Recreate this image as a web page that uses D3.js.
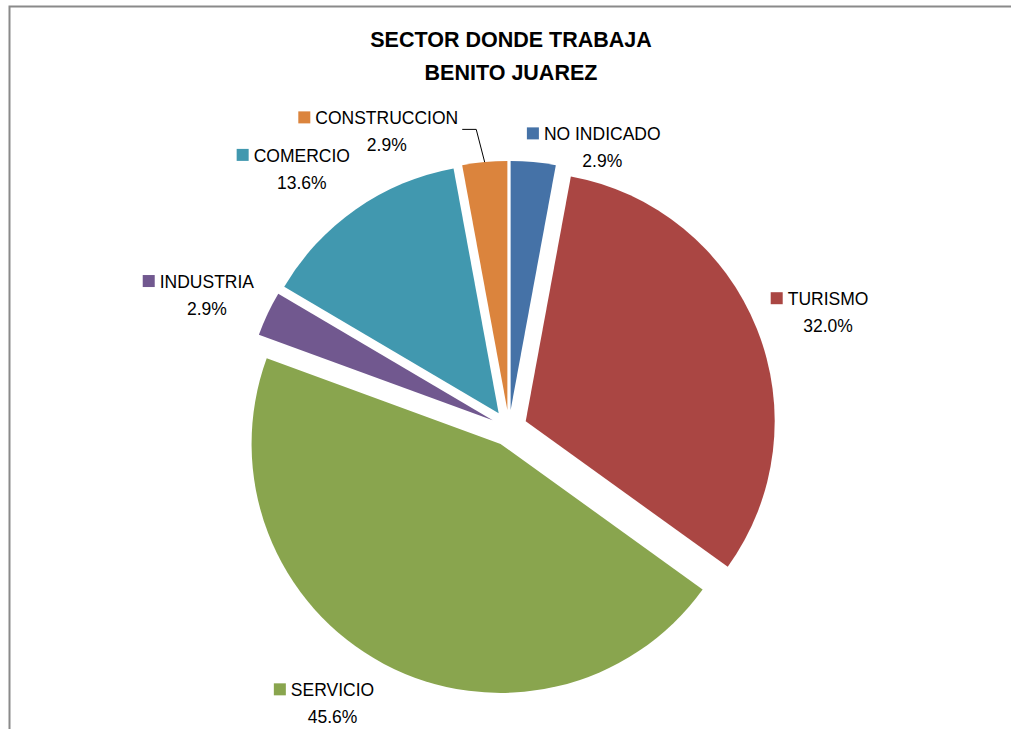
<!DOCTYPE html>
<html>
<head>
<meta charset="utf-8">
<script src="https://cdn.jsdelivr.net/npm/d3@7"></script>
<style>
  body { margin: 0; background: #fff; }
  svg { display: block; }
  text { font-family: "Liberation Sans", Arial, sans-serif; fill: #000; }
</style>
</head>
<body>
<svg id="chart" width="1011" height="731"></svg>
<script>
var categories = ['NO INDICADO', 'TURISMO', 'SERVICIO', 'INDUSTRIA', 'COMERCIO', 'CONSTRUCCION'];
var values = [2.9, 32.0, 45.6, 2.9, 13.6, 2.9];
var colors = ['#4572A7', '#AA4643', '#89A54E', '#71588F', '#4198AF', '#DB843D'];
var titleLines = ['SECTOR DONDE TRABAJA', 'BENITO JUAREZ'];

var sectors = categories.map(function(c, i) {
  return { name: c, value: values[i] };
});

var width = 1011, height = 731;
var cx = 509, cy = 428;
var radius = 249;
var explode = 18;

var svg = d3.select('#chart');

// chart frame (only top and left edges are visible in the crop)
svg.append('path')
  .attr('d', 'M9.5,729 V6.5 H' + width)
  .attr('fill', 'none')
  .attr('stroke', '#8a8a8a')
  .attr('stroke-width', 2);

svg.selectAll('text.title')
  .data(titleLines)
  .enter()
    .append('text')
      .attr('class', 'title')
      .attr('x', 511)
      .attr('y', function(d, i) { return 47 + i * 33; })
      .attr('text-anchor', 'middle')
      .attr('font-weight', 'bold')
      .attr('font-size', 21.5)
      .text(function(d) { return d; });

var color = d3.scaleOrdinal().domain(categories).range(colors);

var pie = d3.pie()
  .sort(null)
  .value(function(d) { return d.value; });

var slices = pie(sectors);

var arc = d3.arc()
  .innerRadius(0)
  .outerRadius(radius);

// every slice pulled out from the centre along its bisector
function shift(d) {
  var a = (d.startAngle + d.endAngle) / 2;
  return [explode * Math.sin(a), -explode * Math.cos(a)];
}

var g = svg.append('g')
  .attr('transform', 'translate(' + cx + ',' + cy + ')');

g.selectAll('path.slice')
  .data(slices)
  .enter()
    .append('path')
      .attr('class', 'slice')
      .attr('d', arc)
      .attr('fill', function(d) { return color(d.data.name); })
      .attr('transform', function(d) {
        var s = shift(d);
        return 'translate(' + s[0] + ',' + s[1] + ')';
      });

// labels sit on an outer ring, then nudged the way Excel lays them out
var labelArc = d3.arc().innerRadius(332).outerRadius(332);
var nudge = {
  'NO INDICADO':  [57, 50],
  'TURISMO':      [5, 8],
  'SERVICIO':     [-27, -18],
  'INDUSTRIA':    [-8, 9],
  'COMERCIO':     [-23, 13],
  'CONSTRUCCION': [-98, 34]
};

var labels = g.selectAll('g.label')
  .data(slices)
  .enter()
    .append('g')
      .attr('class', 'label')
      .attr('transform', function(d) {
        var c = labelArc.centroid(d), n = nudge[d.data.name];
        return 'translate(' + (c[0] + n[0]) + ',' + (c[1] + n[1]) + ')';
      });

labels.append('text')
  .attr('class', 'name')
  .attr('x', 6)
  .attr('y', -7)
  .attr('text-anchor', 'middle')
  .attr('font-size', 17.5)
  .text(function(d) { return d.data.name; });

labels.append('text')
  .attr('x', 6)
  .attr('y', 20)
  .attr('text-anchor', 'middle')
  .attr('font-size', 17.5)
  .text(function(d) { return d.data.value.toFixed(1) + '%'; });

// legend key square in front of the category name
labels.append('rect')
  .attr('width', 12)
  .attr('height', 12)
  .attr('y', -20)
  .attr('x', function() {
    var w = this.parentNode.querySelector('text.name').getComputedTextLength();
    return 6 - w / 2 - 17;
  })
  .attr('fill', function(d) { return color(d.data.name); });

// leader line for the crowded CONSTRUCCION label
var con = slices[5];
var s = shift(con);
var mid = (con.startAngle + con.endAngle) / 2;
var tip = [s[0] + radius * Math.sin(mid), s[1] - radius * Math.cos(mid)];
var lc = labelArc.centroid(con), ln = nudge[con.data.name];
var conW = labels.filter(function(d) { return d.data.name === 'CONSTRUCCION'; })
  .select('text.name').node().getComputedTextLength();
var startX = lc[0] + ln[0] + 6 + conW / 2 + 4;
g.append('path')
  .attr('d', 'M' + startX + ',' + (lc[1] + ln[1] - 2) + ' H' + (startX + 14) + ' L' + tip[0] + ',' + tip[1])
  .attr('fill', 'none')
  .attr('stroke', '#000')
  .attr('stroke-width', 1);
</script>
</body>
</html>
